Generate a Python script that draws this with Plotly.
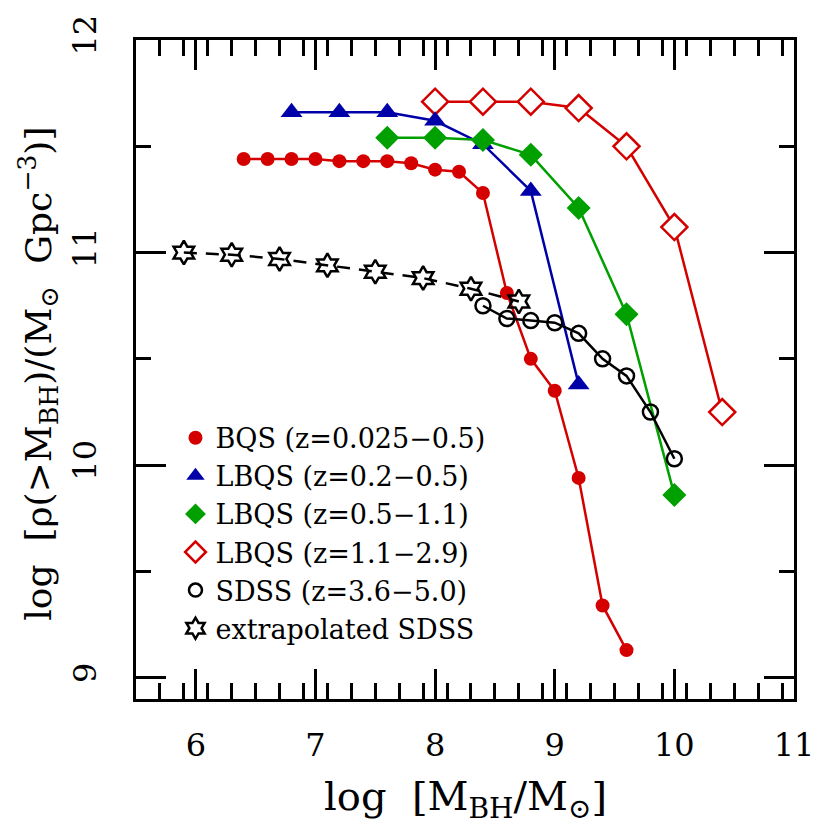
import plotly.graph_objects as go

# ---- data ----
bqs_x = [6.4, 6.6, 6.8, 7.0, 7.2, 7.4, 7.6, 7.8, 8.0, 8.2, 8.4, 8.6, 8.8, 9.0, 9.2, 9.4, 9.6]
bqs_y = [11.44, 11.44, 11.44, 11.44, 11.43, 11.43, 11.43, 11.42, 11.39, 11.38, 11.28, 10.81,
         10.50, 10.35, 9.94, 9.34, 9.13]

lbqs_a_x = [6.8, 7.2, 7.6, 8.0, 8.4, 8.8, 9.2]
lbqs_a_y = [11.66, 11.66, 11.66, 11.62, 11.51, 11.29, 10.38]

lbqs_b_x = [7.6, 8.0, 8.4, 8.8, 9.2, 9.6, 10.0]
lbqs_b_y = [11.54, 11.54, 11.53, 11.46, 11.21, 10.71, 9.86]

lbqs_c_x = [8.0, 8.4, 8.8, 9.2, 9.6, 10.0, 10.4]
lbqs_c_y = [11.71, 11.71, 11.71, 11.68, 11.50, 11.12, 10.25]

sdss_x = [8.4, 8.6, 8.8, 9.0, 9.2, 9.4, 9.6, 9.8, 10.0]
sdss_y = [10.75, 10.69, 10.68, 10.67, 10.62, 10.50, 10.42, 10.25, 10.03]

ext_x = [5.9, 6.3, 6.7, 7.1, 7.5, 7.9, 8.3, 8.7]
ext_y = [11.00, 10.99, 10.97, 10.94, 10.91, 10.88, 10.83, 10.77]

names = ["BQS (z=0.025\u22120.5)", "LBQS (z=0.2\u22120.5)", "LBQS (z=0.5\u22121.1)",
         "LBQS (z=1.1\u22122.9)", "SDSS (z=3.6\u22125.0)", "extrapolated SDSS"]

x_ticks = [6, 7, 8, 9, 10, 11]
y_ticks = [9, 10, 11, 12]

RED = "#d40000"
BLUE = "#0000a8"
GREEN = "#00a000"
BLACK = "#000000"

fig = go.Figure()

def add(x, y, color, symbol, size, mlw=0, fill=True, dash="solid"):
    fig.add_trace(go.Scatter(
        x=x, y=y, mode="lines+markers", showlegend=False,
        line=dict(color=color, width=2.5, dash=dash),
        marker=dict(symbol=symbol, size=size,
                    color=color if fill else "white",
                    line=dict(color=color, width=mlw)),
    ))

add(lbqs_c_x, lbqs_c_y, RED, "diamond", 20, mlw=2.5, fill=False)
add(lbqs_a_x, lbqs_a_y, BLUE, "triangle-up", 19)
add(lbqs_b_x, lbqs_b_y, GREEN, "diamond", 18.5)
add(bqs_x, bqs_y, RED, "circle", 14)
add(sdss_x, sdss_y, BLACK, "circle-open", 15, mlw=2.5)
add(ext_x, ext_y, BLACK, "hexagram-open", 18, mlw=2.5, dash="13px,9px")

# legend entries (markers only)
leg = [(RED, "circle", 14, False), (BLUE, "triangle-up", 16, False),
       (GREEN, "diamond", 16, False), (RED, "diamond-open", 16, True),
       (BLACK, "circle-open", 13, True), (BLACK, "hexagram-open", 16, True)]
for nm, (c, s, sz, op) in zip(names, leg):
    fig.add_trace(go.Scatter(
        x=[None], y=[None], mode="markers", name=nm, showlegend=True,
        marker=dict(symbol=s, size=sz, color=c, line=dict(color=c, width=2.5 if op else 0)),
    ))

axis_common = dict(
    showline=True, linecolor="black", linewidth=2.5, mirror="allticks",
    ticks="inside", ticklen=30, tickwidth=2.5, tickcolor="black",
    showgrid=False, zeroline=False,
    tickfont=dict(family="DejaVu Serif", size=32, color="black"),
)

fig.update_xaxes(range=[5.5, 11], tickvals=x_ticks, ticktext=[str(v) for v in x_ticks],
                 minor=dict(dtick=0.2, tick0=5.5, ticks="inside", ticklen=16, tickwidth=2.5,
                            tickcolor="black", showgrid=False),
                 ticklabelstandoff=16, **axis_common)
fig.update_yaxes(range=[8.9, 12], tickvals=y_ticks, ticktext=[str(v) for v in y_ticks],
                 tickangle=-90,
                 minor=dict(dtick=0.5, tick0=9, ticks="inside", ticklen=15, tickwidth=2.5,
                            tickcolor="black", showgrid=False),
                 ticklabelstandoff=24, **axis_common)

fig.add_annotation(
    text="log  [M<sub>BH</sub>/M<sub>\u2299</sub>]", xref="paper", yref="paper",
    x=0.5, y=-0.152, xanchor="center", yanchor="middle", showarrow=False,
    font=dict(family="DejaVu Serif", size=40, color="black"))
fig.add_annotation(
    text="log  [\u03c1(>M<sub>BH</sub>)/(M<sub>\u2299</sub>  Gpc<sup>\u22123</sup>)]",
    xref="paper", yref="paper", x=-0.148, y=0.493, xanchor="center", yanchor="middle",
    textangle=-90, showarrow=False,
    font=dict(family="DejaVu Serif", size=36, color="black"))

fig.update_layout(
    width=830, height=830,
    margin=dict(l=128, r=44, t=32, b=139, autoexpand=False),
    paper_bgcolor="white", plot_bgcolor="white",
    showlegend=True,
    legend=dict(x=0.06, y=0.433, xanchor="left", yanchor="top",
                bgcolor="rgba(0,0,0,0)", borderwidth=0,
                font=dict(family="DejaVu Serif", size=27, color="black"),
                itemsizing="trace", tracegroupgap=0),
)

fig.write_html("out.html")
